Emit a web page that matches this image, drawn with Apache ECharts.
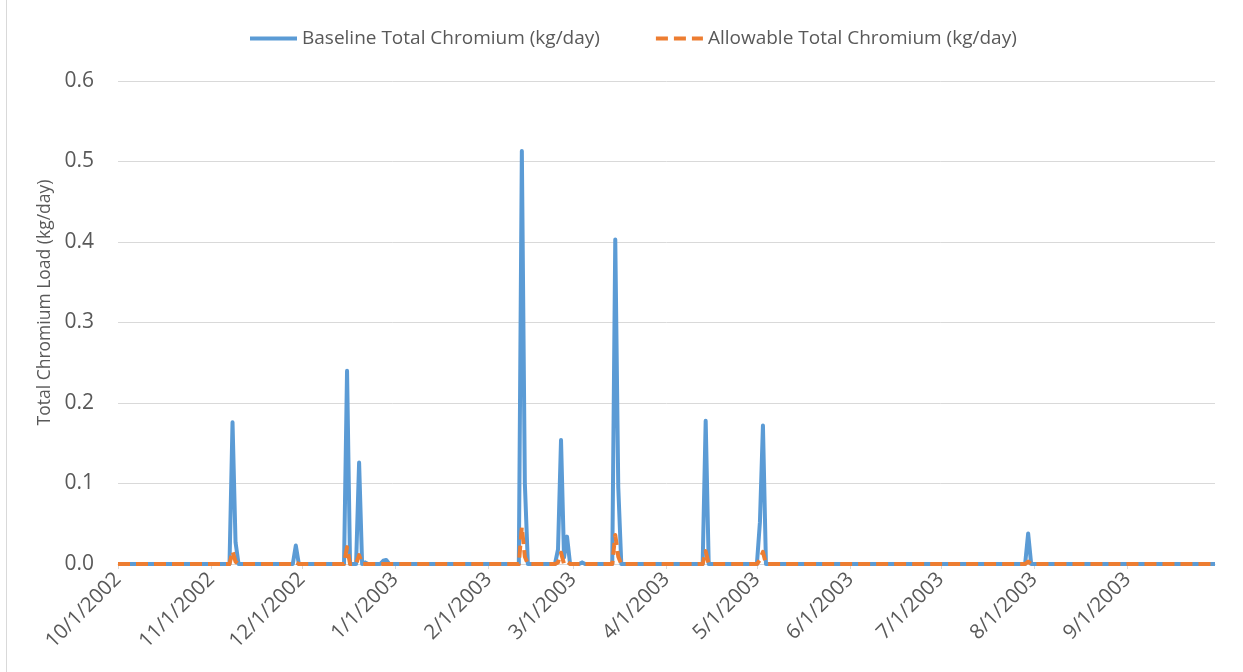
<!DOCTYPE html>
<html>
<head>
<meta charset="utf-8">
<script src="https://cdn.jsdelivr.net/npm/echarts@6/dist/echarts.min.js"></script>
<style>
  html, body { margin: 0; padding: 0; background: #ffffff; }
  #chart { width: 1243px; height: 672px; }
</style>
</head>
<body>
<div id="chart"></div>
<script>
// ---- Data ----
const startDate = [2002, 10, 1];   // first day of the daily series
const dayCount = 365;              // 10/1/2002 .. 9/30/2003

// Non-zero daily values; every other day is 0
const baselineDates = ['11/8/2002', '11/9/2002', '11/29/2002', '12/16/2002', '12/20/2002', '12/22/2002',
  '12/28/2002', '12/29/2002', '2/12/2003', '2/13/2003', '2/24/2003', '2/25/2003', '2/26/2003', '2/27/2003',
  '3/4/2003', '3/15/2003', '3/16/2003', '4/14/2003', '5/2/2003', '5/3/2003', '7/30/2003'];
const baselineValues = [0.176, 0.027, 0.023, 0.240, 0.126, 0.002,
  0.004, 0.005, 0.513, 0.100, 0.018, 0.154, 0.008, 0.034,
  0.002, 0.403, 0.095, 0.178, 0.052, 0.172, 0.038];

const allowableDates = ['11/8/2002', '11/9/2002', '11/29/2002', '12/16/2002', '12/20/2002',
  '2/12/2003', '2/13/2003', '2/24/2003', '2/25/2003', '2/27/2003',
  '3/15/2003', '3/16/2003', '4/14/2003', '5/2/2003', '5/3/2003', '7/30/2003'];
const allowableValues = [0.016, 0.003, 0.002, 0.021, 0.011,
  0.046, 0.009, 0.002, 0.014, 0.003,
  0.036, 0.009, 0.016, 0.005, 0.015, 0.003];

const seriesNames = ['Baseline Total Chromium (kg/day)', 'Allowable Total Chromium (kg/day)'];
const yAxisTitle = 'Total Chromium Load (kg/day)';
const yTicks = [0, 0.1, 0.2, 0.3, 0.4, 0.5, 0.6];

// ---- Build category labels (M/D/YYYY) ----
const categories = [];
for (let i = 0; i < dayCount; i++) {
  const d = new Date(Date.UTC(startDate[0], startDate[1] - 1, startDate[2] + i));
  categories.push((d.getUTCMonth() + 1) + '/' + d.getUTCDate() + '/' + d.getUTCFullYear());
}
function fillSeries(dates, values) {
  const arr = categories.map(() => 0);
  dates.forEach((dt, k) => {
    const idx = categories.indexOf(dt);
    if (idx >= 0) arr[idx] = values[k];
  });
  return arr;
}
const baseline = fillSeries(baselineDates, baselineValues);
const allowable = fillSeries(allowableDates, allowableValues);
const isMonthStart = (idx, val) => val.split('/')[1] === '1';

const FONT = '"Open Sans", "Liberation Sans", sans-serif';
const chart = echarts.init(document.getElementById('chart'), null, { renderer: 'canvas' });
chart.setOption({
  animation: false,
  backgroundColor: '#ffffff',
  textStyle: { fontFamily: FONT },
  graphic: [{
    type: 'line', shape: { x1: 6.5, y1: 0, x2: 6.5, y2: 672 },
    style: { stroke: '#d9d9d9', lineWidth: 1 }, silent: true
  }],
  legend: {
    top: 24,
    left: 243,
    itemWidth: 47,
    itemHeight: 14,
    itemGap: 54,
    itemStyle: { opacity: 0 },
    lineStyle: { width: 4 },
    textStyle: { fontFamily: FONT, fontSize: 19, color: '#595959' },
    data: seriesNames
  },
  grid: { left: 118, right: 28, top: 81, bottom: 108, containLabel: false },
  xAxis: {
    type: 'category',
    data: categories,
    boundaryGap: false,
    axisLine: { lineStyle: { color: '#d9d9d9', width: 1 } },
    axisTick: { show: true, interval: isMonthStart, length: 5, lineStyle: { color: '#d9d9d9' } },
    axisLabel: {
      interval: isMonthStart, rotate: 45, margin: 12,
      fontFamily: FONT, fontSize: 20.5, color: '#595959'
    },
    splitLine: { show: false }
  },
  yAxis: {
    type: 'value',
    min: yTicks[0], max: yTicks[yTicks.length - 1], interval: 0.1,
    name: yAxisTitle,
    nameLocation: 'middle',
    nameGap: 64,
    nameTextStyle: { fontFamily: FONT, fontSize: 17.5, color: '#595959', padding: [0, 0, 0, 40] },
    axisLine: { show: false },
    axisTick: { show: false },
    axisLabel: { fontFamily: FONT, fontSize: 21, color: '#595959', margin: 24,
      formatter: v => v.toFixed(1) },
    splitLine: { lineStyle: { color: '#d9d9d9', width: 1 } }
  },
  series: [
    {
      name: seriesNames[0], type: 'line', data: baseline,
      symbol: 'none', smooth: false,
      lineStyle: { color: '#5b9bd5', width: 4, join: 'round' },
      itemStyle: { color: '#5b9bd5' }, z: 2
    },
    {
      name: seriesNames[1], type: 'line', data: allowable,
      symbol: 'none', smooth: false,
      lineStyle: { color: '#ed7d31', width: 4, type: [12, 6], join: 'round' },
      itemStyle: { color: '#ed7d31' }, z: 3
    }
  ]
});
</script>
</body>
</html>
